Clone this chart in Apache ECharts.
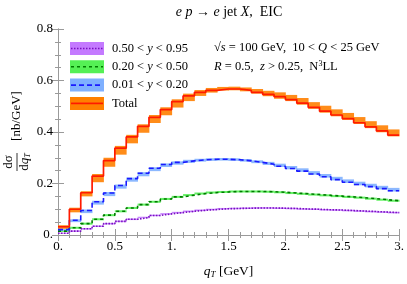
<!DOCTYPE html>
<html><head><meta charset="utf-8">
<script src="https://cdn.jsdelivr.net/npm/echarts@6/dist/echarts.min.js"></script>
<style>html,body{margin:0;padding:0;background:#fff}#c{width:407px;height:284px}</style>
</head><body><div id="c"></div>
<script>
// bin edges in q_T [GeV]
const qtEdges = [0.0,0.1,0.2,0.3,0.4,0.5,0.6,0.7,0.8,0.9,1.0,1.1,1.2,1.3,1.4,1.5,1.6,1.7,1.8,1.9,2.0,2.1,2.2,2.3,2.4,2.5,2.6,2.7,2.8,2.9,3.0];

// Total
const total   = [0.032,0.100,0.164,0.229,0.289,0.337,0.381,0.422,0.457,0.487,0.518,0.540,0.554,0.562,0.567,0.567,0.562,0.554,0.546,0.537,0.526,0.512,0.496,0.481,0.466,0.452,0.436,0.420,0.404,0.388];
const totalHi = [0.038,0.106,0.170,0.237,0.300,0.346,0.389,0.430,0.466,0.496,0.527,0.549,0.563,0.571,0.575,0.576,0.573,0.567,0.560,0.554,0.544,0.532,0.516,0.502,0.488,0.474,0.458,0.442,0.426,0.410];
const totalLo = [0.024,0.088,0.150,0.205,0.265,0.312,0.356,0.397,0.435,0.465,0.495,0.520,0.540,0.553,0.561,0.562,0.558,0.549,0.539,0.529,0.520,0.506,0.490,0.475,0.461,0.447,0.431,0.415,0.399,0.383];

// 0.01 < y < 0.20
const yLow   = [0.021,0.057,0.095,0.129,0.163,0.192,0.219,0.240,0.259,0.274,0.282,0.288,0.292,0.294,0.294,0.292,0.288,0.282,0.275,0.267,0.258,0.248,0.237,0.226,0.215,0.205,0.196,0.188,0.180,0.172];
const yLowHi = [0.024,0.061,0.099,0.133,0.167,0.196,0.223,0.244,0.263,0.278,0.286,0.292,0.296,0.298,0.299,0.298,0.295,0.290,0.284,0.277,0.268,0.259,0.248,0.237,0.226,0.216,0.207,0.199,0.191,0.183];
const yLowLo = [0.017,0.050,0.085,0.118,0.151,0.180,0.207,0.228,0.248,0.264,0.273,0.280,0.285,0.288,0.289,0.288,0.285,0.279,0.272,0.264,0.255,0.245,0.234,0.223,0.212,0.202,0.193,0.185,0.177,0.169];

// 0.20 < y < 0.50
const yMid   = [0.015,0.028,0.044,0.061,0.077,0.092,0.105,0.118,0.129,0.140,0.148,0.155,0.161,0.165,0.167,0.169,0.169,0.169,0.168,0.166,0.163,0.160,0.157,0.154,0.151,0.148,0.145,0.141,0.137,0.133];
const yMidHi = [0.018,0.032,0.048,0.065,0.081,0.096,0.109,0.122,0.133,0.144,0.152,0.159,0.165,0.169,0.171,0.173,0.173,0.173,0.172,0.170,0.167,0.164,0.161,0.158,0.155,0.152,0.149,0.145,0.141,0.137];
const yMidLo = [0.012,0.024,0.040,0.057,0.073,0.088,0.101,0.114,0.125,0.136,0.144,0.151,0.157,0.161,0.163,0.165,0.165,0.165,0.164,0.162,0.159,0.156,0.153,0.150,0.147,0.144,0.141,0.137,0.133,0.129];

// 0.50 < y < 0.95
const yHigh   = [0.007,0.015,0.024,0.034,0.044,0.053,0.061,0.068,0.076,0.082,0.087,0.092,0.096,0.099,0.102,0.103,0.104,0.105,0.105,0.104,0.103,0.101,0.100,0.098,0.097,0.095,0.093,0.091,0.089,0.087];
const yHighHi = [0.009,0.018,0.027,0.037,0.047,0.056,0.064,0.071,0.079,0.085,0.090,0.095,0.099,0.102,0.105,0.106,0.107,0.108,0.108,0.107,0.106,0.104,0.103,0.101,0.100,0.098,0.096,0.094,0.092,0.090];
const yHighLo = [0.005,0.012,0.021,0.031,0.041,0.050,0.058,0.065,0.073,0.079,0.084,0.089,0.093,0.096,0.099,0.100,0.101,0.102,0.102,0.101,0.100,0.098,0.097,0.095,0.094,0.092,0.090,0.088,0.086,0.084];

const xTickLabels = ['0.','0.5','1.','1.5','2.','2.5','3.'];
const yTickLabels = ['0.','0.2','0.4','0.6','0.8'];
const legendNames = ['0.50 < {i|y} < 0.95','0.20 < {i|y} < 0.50','0.01 < {i|y} < 0.20','Total'];

const SERIF = '"Liberation Serif", "DejaVu Serif", serif';
const FRAME = '#9a9a9a';

const styles = {
  total: {band:'#ff8000', line:'#ff1a00', dash:'solid', w:1.7},
  low:   {band:'#7fb0ff', line:'#1a1aff', dash:[5,3], w:1.6},
  mid:   {band:'#55f055', line:'#007a00', dash:[3,3], w:1.6},
  high:  {band:'#c47aff', line:'#7a10c0', dash:[1.5,1.5], w:1.6}
};

function bandSeries(lo, hi, color, z) {
  const data = lo.map((l, i) => [qtEdges[i], qtEdges[i+1], l, hi[i]]);
  return {
    type:'custom', z:z, silent:true,
    encode:{x:[0,1], y:[2,3]},
    data:data,
    renderItem:(params, api) => {
      const p0 = api.coord([api.value(0), api.value(3)]);
      const p1 = api.coord([api.value(1), api.value(2)]);
      return {type:'rect', shape:{x:p0[0], y:p0[1], width:p1[0]-p0[0]+0.4, height:p1[1]-p0[1]},
              style:{fill:color, opacity:0.9}};
    }
  };
}
function stepSeries(vals, st, z) {
  const data = qtEdges.map((x, i) => [x, vals[Math.min(i, vals.length-1)]]);
  return {type:'line', step:'end', z:z, silent:true, showSymbol:false, data:data,
    lineStyle:{color:st.line, width:st.w, type:st.dash}};
}

const chart = echarts.init(document.getElementById('c'), null, {renderer:'canvas'});

const axisCommon = {
  axisLine:{show:true, lineStyle:{color:FRAME, width:1}},
  axisTick:{show:true, inside:true, length:6, lineStyle:{color:FRAME}},
  splitLine:{show:false}
};

const legendEntries = [
  {st:styles.high, name:legendNames[0]},
  {st:styles.mid, name:legendNames[1]},
  {st:styles.low, name:legendNames[2]},
  {st:styles.total, name:legendNames[3]}
];
const LF = 12.5;
const graphics = [];
legendEntries.forEach((e, k) => {
  const cy = 48.5 + k*18.3;
  graphics.push({type:'rect', left:70, top:cy-6.5, shape:{width:34, height:13}, style:{fill:e.st.band}, z:10});
  graphics.push({type:'line', shape:{x1:71, y1:cy, x2:103, y2:cy}, style:{stroke:e.st.line, lineWidth:e.st.w, lineDash:e.st.dash==='solid'?null:e.st.dash}, z:11});
  graphics.push({type:'text', x:112, y:cy, style:{text:e.name, font:LF+'px '+SERIF, fill:'#000', verticalAlign:'middle',
    rich:{i:{fontStyle:'italic', fontSize:LF, fontFamily:SERIF}}}, z:11});
});
// annotations
graphics.push({type:'text', x:214, y:48, style:{text:'√{o|s} = 100 GeV,  10 < {i|Q} < 25 GeV', font:LF+'px '+SERIF, fill:'#000', verticalAlign:'middle',
  rich:{i:{fontStyle:'italic', fontSize:LF, fontFamily:SERIF}, o:{fontStyle:'italic', fontSize:LF, fontFamily:SERIF}}}, z:11});
graphics.push({type:'text', x:214, y:66.5, style:{text:'{i|R} = 0.5,  {i|z} > 0.25,  N{sup|3}LL', font:LF+'px '+SERIF, fill:'#000', verticalAlign:'middle',
  rich:{i:{fontStyle:'italic', fontSize:LF, fontFamily:SERIF}, sup:{fontSize:8, fontFamily:SERIF, verticalAlign:'top', padding:[0,0,6,0]}}}, z:11});
// title
graphics.push({type:'text', x:229, y:12, style:{text:'{i|e p} → {i|e} jet {i|X},  EIC', font:'14px '+SERIF, fill:'#000', align:'center', verticalAlign:'middle',
  rich:{i:{fontStyle:'italic', fontSize:14, fontFamily:SERIF}}}, z:11});
// y axis title (rotated)
graphics.push({type:'group', x:17, y:162, rotation:Math.PI/2, children:[
  {type:'text', x:0, y:-8, style:{text:'dσ', font:'13px '+SERIF, fill:'#000', align:'center', verticalAlign:'middle'}},
  {type:'line', shape:{x1:-9, y1:0, x2:9, y2:0}, style:{stroke:'#000', lineWidth:0.8}},
  {type:'text', x:0, y:8, style:{text:'d{i|q}{s|T}', font:'13px '+SERIF, fill:'#000', align:'center', verticalAlign:'middle',
     rich:{i:{fontStyle:'italic', fontSize:13, fontFamily:SERIF}, s:{fontStyle:'italic', fontSize:8, fontFamily:SERIF, padding:[6,0,0,0]}}}},
  {type:'text', x:46, y:0, style:{text:'[nb/GeV]', font:'13px '+SERIF, fill:'#000', align:'center', verticalAlign:'middle'}}
]});

chart.setOption({
  animation:false,
  backgroundColor:'#fff',
  grid:{left:58, right:7, top:29, bottom:44, containLabel:false},
  xAxis:[
    Object.assign({type:'value', min:0, max:3, interval:0.5, position:'bottom',
      minorTick:{show:true, splitNumber:5, length:3, lineStyle:{color:FRAME}},
      axisLabel:{fontFamily:SERIF, fontSize:13, color:'#000', margin:5,
        formatter:(v)=>xTickLabels[Math.round(v/0.5)]},
      name:'{i|q}{s|T} [GeV]', nameLocation:'middle', nameGap:28,
      nameTextStyle:{fontFamily:SERIF, fontSize:13.5, color:'#000',
        rich:{i:{fontStyle:'italic', fontSize:13.5, fontFamily:SERIF}, s:{fontStyle:'italic', fontSize:9, fontFamily:SERIF, padding:[7,0,0,0]}}}
    }, axisCommon),
    Object.assign({type:'value', min:0, max:3, interval:0.5, position:'top',
      minorTick:{show:true, splitNumber:5, length:3, lineStyle:{color:FRAME}},
      axisLabel:{show:false}}, axisCommon)
  ],
  yAxis:[
    Object.assign({type:'value', min:0, max:0.8, interval:0.2, position:'left',
      minorTick:{show:true, splitNumber:4, length:3, lineStyle:{color:FRAME}},
      axisLabel:{fontFamily:SERIF, fontSize:13, color:'#000', margin:5,
        formatter:(v)=>yTickLabels[Math.round(v/0.2)]}
    }, axisCommon),
    Object.assign({type:'value', min:0, max:0.8, interval:0.2, position:'right',
      minorTick:{show:true, splitNumber:4, length:3, lineStyle:{color:FRAME}},
      axisLabel:{show:false}}, axisCommon)
  ],
  series:[
    bandSeries(yHighLo, yHighHi, styles.high.band, 2),
    bandSeries(yMidLo, yMidHi, styles.mid.band, 2),
    bandSeries(yLowLo, yLowHi, styles.low.band, 2),
    bandSeries(totalLo, totalHi, styles.total.band, 2),
    stepSeries(yHigh, styles.high, 3),
    stepSeries(yMid, styles.mid, 3),
    stepSeries(yLow, styles.low, 3),
    stepSeries(total, styles.total, 3)
  ],
  graphic:graphics
});
</script></body></html>
